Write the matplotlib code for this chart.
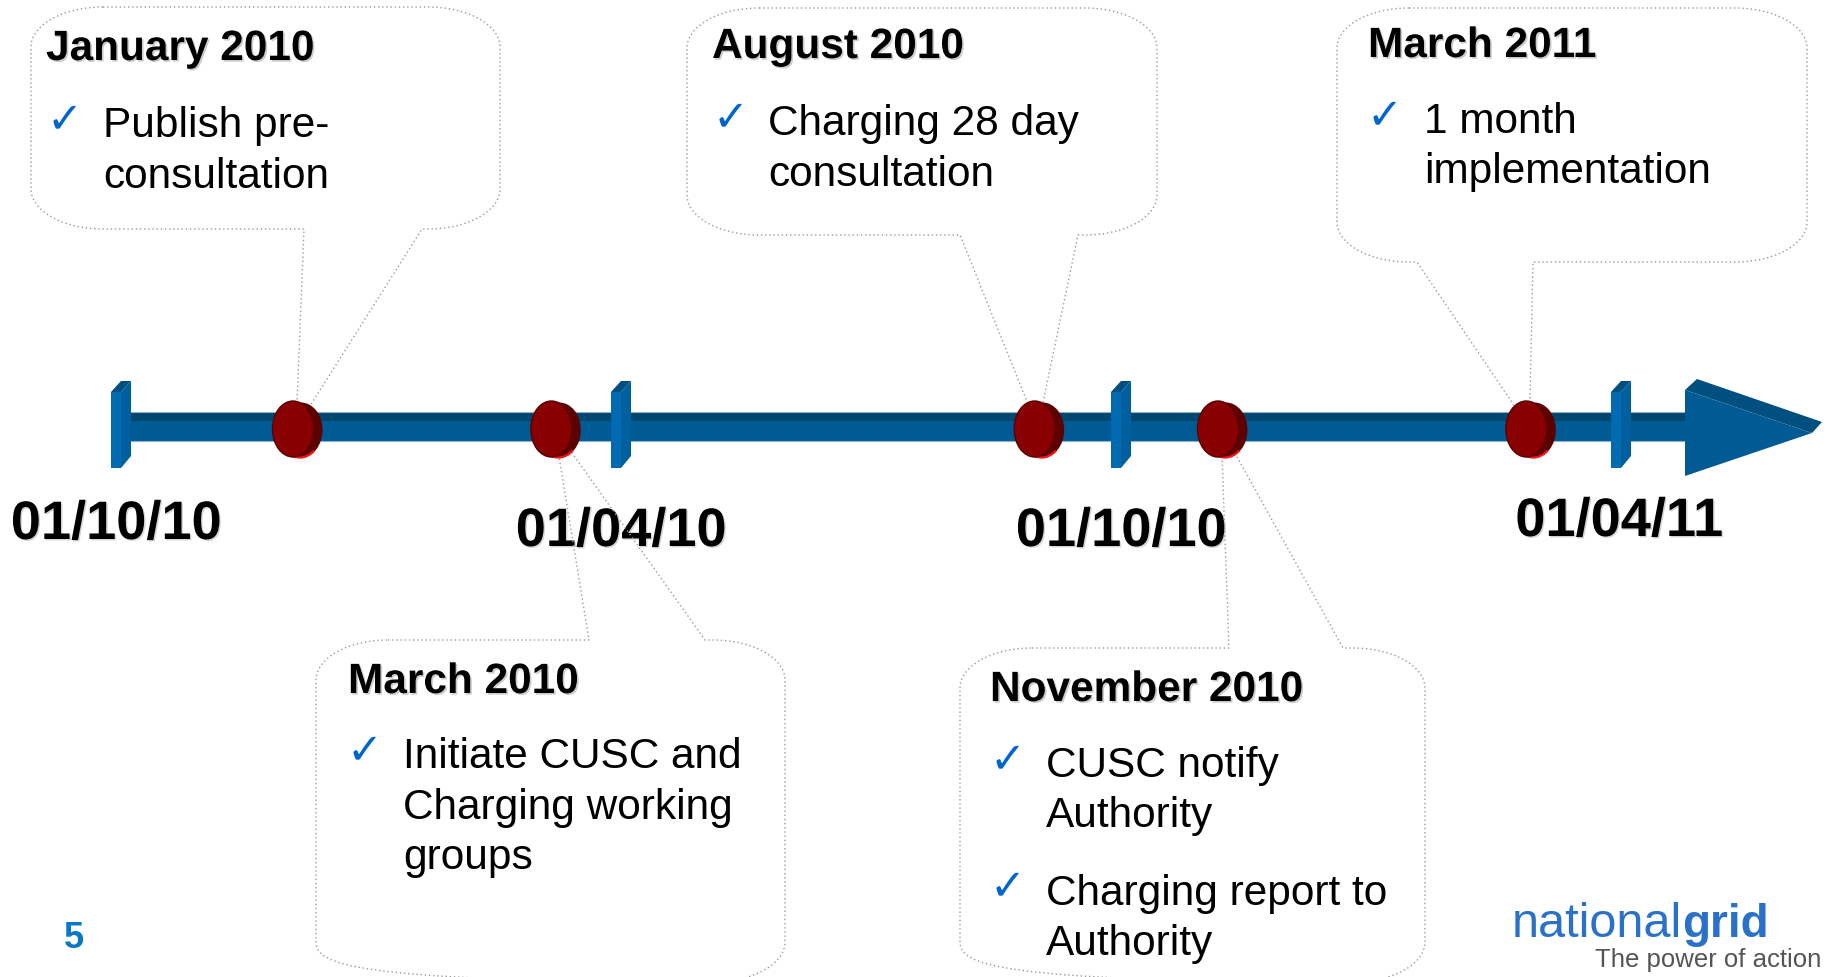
import matplotlib
matplotlib.use("Agg")
import matplotlib.pyplot as plt
import matplotlib.patheffects as pe
from matplotlib.patches import Polygon, Ellipse, PathPatch, Arc
from matplotlib.path import Path

plt.rcParams["font.family"] = ["Liberation Sans", "DejaVu Sans"]

# timeline, in months counted from the first tick
tick_months = [0, 6, 12, 18]
tick_labels = ["01/10/10", "01/04/10", "01/10/10", "01/04/11"]

event_titles = ["January 2010", "March 2010", "August 2010", "November 2010", "March 2011"]
event_months = [2.1, 5.2, 11.0, 13.2, 16.9]
event_items = [
    [["Publish pre-", "consultation"]],
    [["Initiate CUSC and", "Charging working", "groups"]],
    [["Charging 28 day", "consultation"]],
    [["CUSC notify", "Authority"], ["Charging report to", "Authority"]],
    [["1 month", "implementation"]],
]

W, H = 1828, 977
fig = plt.figure(figsize=(W / 100, H / 100), dpi=100)
ax = fig.add_axes([0, 0, 1, 1])
ax.set_xlim(0, W)
ax.set_ylim(H, 0)
ax.axis("off")

# invisible axes that carries the month scale of the timeline
tl = fig.add_axes([0, 0, 1, 1])
tl.set_xlim(-1.452, 20.484)
tl.set_ylim(H, 0)
tl.axis("off")


def px(m):
    return ax.transData.inverted().transform(tl.transData.transform((m, 0)))[0]


AXIS_Y = 428
TOP, MID, BOT = 412, 421, 441
C_FRONT, C_TOP = "#005b94", "#00476f"

# --- shaft and arrow head
x_start = px(tick_months[0]) + 2
x_base = px(tick_months[-1]) + 64
ax.add_patch(Polygon([(x_start, MID), (x_start + 8, TOP), (x_base, TOP), (x_base, MID)],
                     closed=True, fc=C_TOP, ec="none", zorder=3))
ax.add_patch(Polygon([(x_start, MID), (x_base, MID), (x_base, BOT), (x_start, BOT)],
                     closed=True, fc=C_FRONT, ec="none", zorder=3))
ax.plot([x_start + 8, x_base], [TOP, TOP], color="#8fb0c8", lw=0.8, zorder=3)
ax.plot([x_start, x_base], [BOT, BOT], color="#8fb0c8", lw=0.8, zorder=3)
ax.add_patch(Polygon([(x_base, 390), (x_base + 12, 379), (x_base + 137, 422), (x_base + 127, 433)],
                     closed=True, fc="#00507f", ec="none", zorder=3))
ax.add_patch(Polygon([(x_base, 390), (x_base + 127, 433), (x_base, 476)],
                     closed=True, fc=C_FRONT, ec="none", zorder=3))

# --- tick slabs
for m in tick_months:
    t = px(m)
    ax.add_patch(Polygon([(t - 10, 392), (t, 392), (t + 10, 381), (t, 381)],
                         closed=True, fc="#004f80", ec="none", zorder=4))
    ax.add_patch(Polygon([(t, 392), (t + 10, 381), (t + 10, 456), (t, 468)],
                         closed=True, fc="#005f9e", ec="none", zorder=4))
    ax.add_patch(Polygon([(t - 10, 392), (t, 392), (t, 468), (t - 10, 468)],
                         closed=True, fc="#006bb0", ec="none", zorder=4))

# --- date labels
label_dx = [-5, 0, 0, -2]
label_y = [539, 546, 546, 536]
for m, lab, dx, y in zip(tick_months, tick_labels, label_dx, label_y):
    ax.text(px(m) + dx, y, lab, ha="center", va="baseline", fontsize=39,
            fontweight="bold", color="black", zorder=3,
            path_effects=[pe.withSimplePatchShadow(offset=(1.0, -1.0), shadow_rgbFace="#d4d4d4", alpha=1)])

# --- callouts
K = 0.5523


def callout(x0, y0, x1, y1, side, a, b, tip, rx=72, ry=40):
    v, c = [], []

    def L(p):
        v.append(p)
        c.append(Path.LINETO)

    def C(p1, p2, p3):
        v.extend([p1, p2, p3])
        c.extend([Path.CURVE4] * 3)

    v.append((x0 + rx, y0))
    c.append(Path.MOVETO)
    if side == "top":
        L((a, y0)); L(tip); L((b, y0))
    L((x1 - rx, y0))
    C((x1 - rx + K * rx, y0), (x1, y0 + ry - K * ry), (x1, y0 + ry))
    L((x1, y1 - ry))
    C((x1, y1 - ry + K * ry), (x1 - rx + K * rx, y1), (x1 - rx, y1))
    if side == "bottom":
        L((b, y1)); L(tip); L((a, y1))
    L((x0 + rx, y1))
    C((x0 + rx - K * rx, y1), (x0, y1 - ry + K * ry), (x0, y1 - ry))
    L((x0, y0 + ry))
    C((x0, y0 + ry - K * ry), (x0 + rx - K * rx, y0), (x0 + rx, y0))
    v.append((x0 + rx, y0))
    c.append(Path.CLOSEPOLY)
    return Path(v, c)


boxes = [
    (31, 7, 500, 229, "bottom", 304, 422),
    (316, 640, 785, 982, "top", 589, 705),
    (687, 8, 1157, 235, "bottom", 960, 1078),
    (960, 648, 1425, 982, "top", 1229, 1343),
    (1337, 8, 1807, 262, "bottom", 1417, 1533),
]
title_xy = [(46, 60), (348, 693), (712, 58), (990, 701), (1368, 57)]
body_xy = [(49, 103, 137), (349, 403, 768), (715, 768, 135), (992, 1046, 777), (1369, 1424, 133)]
LINE = 50.5
PARA = 77

shadow = [pe.withSimplePatchShadow(offset=(1.2, -1.2), shadow_rgbFace="#cccccc", alpha=1)]

for i, m in enumerate(event_months):
    x0, y0, x1, y1, side, a, b = boxes[i]
    tip = (px(m), AXIS_Y)
    ax.add_patch(PathPatch(callout(x0, y0, x1, y1, side, a, b, tip), fc="none",
                           ec="#9a9a9a", lw=1.0, ls=(0, (1, 2)), zorder=5))
    tx, ty = title_xy[i]
    ax.text(tx, ty, event_titles[i], fontsize=30.5, fontweight="bold", va="baseline",
            ha="left", color="black", zorder=6, path_effects=shadow)
    cx, bx, by = body_xy[i]
    for para in event_items[i]:
        ax.text(cx - 2, by - 5, "\u2713", fontsize=31, color="#0066cc", va="baseline",
                ha="left", family="DejaVu Sans", fontweight="bold", zorder=6)
        for k, line in enumerate(para):
            ax.text(bx, by + k * LINE, line, fontsize=30.5, va="baseline", ha="left",
                    color="black", zorder=6)
        by += (len(para) - 1) * LINE + PARA

    # 3D red disc marker
    mx = px(m)
    ax.add_patch(Ellipse((mx + 5, 430), 43, 55, fc="#5c0000", ec="none", zorder=7))
    ax.add_patch(Arc((mx + 4, 430), 43, 55, theta1=55, theta2=125, color="#ff1010", lw=1.6, zorder=7))
    ax.add_patch(Ellipse((mx - 3, 429), 41, 56, fc="#880000", ec="#5a0000", lw=1.0, zorder=8))

# --- footer
ax.text(64, 948, "5", fontsize=26, fontweight="bold", color="#0a78c8", va="baseline", ha="left")
ax.text(1682, 937, "national", fontsize=35, color="#2a72c8", va="baseline", ha="right")
ax.text(1682, 937, "grid", fontsize=33, fontweight="bold", color="#2a72c8", va="baseline", ha="left")
ax.text(1595, 967, "The power of action", fontsize=18.5, color="#555555", va="baseline", ha="left")

fig.savefig("out.png", dpi=100)
